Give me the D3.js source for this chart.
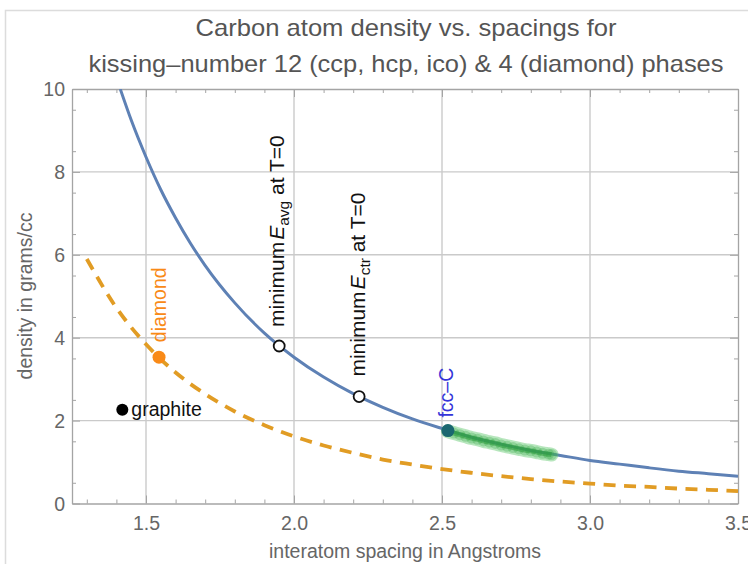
<!DOCTYPE html>
<html><head><meta charset="utf-8">
<script src="https://cdn.jsdelivr.net/npm/d3@7"></script>
<style>body{margin:0;background:#fff}svg{display:block}text{font-family:"Liberation Sans",Arial,sans-serif}</style>
</head><body>
<script>
// ---- data ----
const titleLines = ["Carbon atom density vs. spacings for", "kissing\u2013number 12 (ccp, hcp, ico) & 4 (diamond) phases"];
const xTicks = [1.5, 2.0, 2.5, 3.0, 3.5];
const yTicks = [0, 2, 4, 6, 8, 10];
const fccX = [1.413,1.45,1.5,1.55,1.6,1.65,1.7,1.8,1.9,2.0,2.1,2.2,2.3,2.4,2.5,2.6,2.7,2.8,2.9,3.0,3.1,3.2,3.3,3.4,3.5];
const fccY = [10.0,9.25,8.36,7.57,6.89,6.28,5.74,4.84,4.11,3.53,3.05,2.65,2.32,2.04,1.81,1.60,1.43,1.28,1.16,1.04,0.95,0.86,0.78,0.72,0.66];
const diaX = [1.3,1.4,1.5,1.6,1.7,1.8,1.9,2.0,2.1,2.2,2.3,2.4,2.5,2.6,2.7,2.8,2.9,3.0,3.1,3.2,3.3,3.4,3.5];
const diaY = [5.90,4.72,3.84,3.16,2.64,2.22,1.89,1.62,1.40,1.22,1.06,0.94,0.83,0.74,0.66,0.59,0.53,0.48,0.43,0.40,0.36,0.33,0.30];
const bandX = [2.52,2.54,2.56,2.58,2.60,2.62,2.64,2.66,2.68,2.70,2.72,2.74,2.76,2.78,2.80,2.82,2.84,2.86,2.87];
const bandY = [1.74,1.70,1.66,1.62,1.58,1.55,1.51,1.48,1.45,1.41,1.38,1.35,1.32,1.29,1.27,1.24,1.21,1.19,1.18];
const minAvg = {x:1.95, y:3.80};
const minCtr = {x:2.22, y:2.58};
const fccC = {x:2.52, y:1.76};
const diamondPt = {x:1.544, y:3.53};
const graphitePt = {x:1.42, y:2.26};

const W = 748, H = 564;
const svg = d3.select("body").append("svg").attr("width", W).attr("height", H);
const L = 72, R = 738, T = 89, B = 503.5;
const x = d3.scaleLinear().domain([1.25, 3.5]).range([L, R]);
const y = d3.scaleLinear().domain([0, 10]).range([B, T]);

// outer screenshot border
svg.append("path").attr("d", `M5.5,${H} V10.5 H${W}`).attr("fill","none").attr("stroke","#dcdcdc").attr("stroke-width",1.5);

// title
const titleW = [421, 635];
svg.selectAll("text.title").data(titleLines).join("text").attr("class","title")
  .attr("x", 406).attr("y", (d,i)=> 36 + i*36).attr("text-anchor","middle")
  .attr("font-size", 24).attr("fill","#555")
  .attr("textLength", (d,i)=>titleW[i]).attr("lengthAdjust","spacingAndGlyphs").text(d=>d);

// grid
const gridC = "#cacaca";
svg.append("g").selectAll("line").data([1.5,2.0,2.5,3.0]).join("line")
  .attr("x1",d=>x(d)).attr("x2",d=>x(d)).attr("y1",T).attr("y2",B).attr("stroke",gridC).attr("stroke-width",1.4);
svg.append("g").selectAll("line").data([2,4,6,8]).join("line")
  .attr("y1",d=>y(d)).attr("y2",d=>y(d)).attr("x1",L).attr("x2",R).attr("stroke",gridC).attr("stroke-width",1.4);

// frame + ticks via d3 axes
const axC = "#a4a4a4";
const xMinor = d3.range(13, 36).map(v=>v/10).filter(v=> Math.abs(v*2 - Math.round(v*2))>1e-6);
const yMinor = d3.range(1, 20, 2).map(v=>v/2);
function styleAxis(g){ g.select(".domain").attr("stroke",axC).attr("stroke-width",1.3); g.selectAll(".tick line").attr("stroke",axC); }
// bottom major
const gB = svg.append("g").attr("transform",`translate(0,${B})`)
  .call(d3.axisTop(x).tickValues(xTicks).tickSize(8).tickSizeOuter(0).tickFormat(d3.format(".1f")));
styleAxis(gB);
gB.selectAll(".tick text").attr("y", 26.5).attr("dy",0).attr("font-size",19.5).attr("fill","#666").attr("font-family","Liberation Sans");
svg.append("g").attr("transform",`translate(0,${B})`).call(d3.axisTop(x).tickValues(xMinor).tickSize(4).tickFormat("")).call(styleAxis).select(".domain").remove();
// top
svg.append("g").attr("transform",`translate(0,${T})`).call(d3.axisBottom(x).tickValues(xTicks).tickSize(8).tickSizeOuter(0).tickFormat("")).call(styleAxis);
svg.append("g").attr("transform",`translate(0,${T})`).call(d3.axisBottom(x).tickValues(xMinor).tickSize(4).tickFormat("")).call(styleAxis).select(".domain").remove();
// left
const gL = svg.append("g").attr("transform",`translate(${L},0)`)
  .call(d3.axisRight(y).tickValues(yTicks).tickSize(8).tickSizeOuter(0).tickFormat(d3.format("d")));
styleAxis(gL);
gL.selectAll(".tick text").attr("x", -7).attr("dy","0.35em").attr("text-anchor","end").attr("font-size",19.5).attr("fill","#666").attr("font-family","Liberation Sans");
svg.append("g").attr("transform",`translate(${L},0)`).call(d3.axisRight(y).tickValues(yMinor).tickSize(4).tickFormat("")).call(styleAxis).select(".domain").remove();
// right
svg.append("g").attr("transform",`translate(${R},0)`).call(d3.axisLeft(y).tickValues(yTicks).tickSize(8).tickSizeOuter(0).tickFormat("")).call(styleAxis);
svg.append("g").attr("transform",`translate(${R},0)`).call(d3.axisLeft(y).tickValues(yMinor).tickSize(4).tickFormat("")).call(styleAxis).select(".domain").remove();

// axis titles
svg.append("text").attr("x", 405).attr("y", 558).attr("text-anchor","middle").attr("font-size",19.5).attr("fill","#666").text("interatom spacing in Angstroms");
svg.append("text").attr("transform","translate(32,296) rotate(-90)").attr("text-anchor","middle").attr("font-size",19.5).attr("fill","#666").text("density in grams/cc");

// curves
svg.append("clipPath").attr("id","c").append("rect").attr("x",L).attr("y",T).attr("width",R-L).attr("height",B-T);
const line = d3.line().x(d=>x(d[0])).y(d=>y(d[1])).curve(d3.curveMonotoneX);
svg.append("path").attr("d", line(diaX.map((v,i)=>[v,diaY[i]]))).attr("fill","none")
  .attr("stroke","#e19c24").attr("stroke-width",3.8).attr("stroke-dasharray","12,8.5");
svg.append("path").attr("d", line(fccX.map((v,i)=>[v,fccY[i]]))).attr("fill","none")
  .attr("stroke","#5e81b5").attr("stroke-width",3).attr("clip-path","url(#c)");

// green band
const band = bandX.map((v,i)=>[v,bandY[i]]);
svg.append("path").attr("d", line(band)).attr("fill","none").attr("stroke","#4cc05a").attr("stroke-opacity",0.4).attr("stroke-width",14).attr("stroke-linecap","round");
svg.append("g").selectAll("circle").data(band).join("circle").attr("cx",d=>x(d[0])).attr("cy",d=>y(d[1])).attr("r",5.5)
  .attr("fill","#34a846").attr("fill-opacity",0.3);
svg.append("path").attr("d", line(band)).attr("fill","none").attr("stroke","#2a9a3a").attr("stroke-opacity",0.55).attr("stroke-width",5);

// points
svg.append("circle").attr("cx",x(minAvg.x)).attr("cy",y(minAvg.y)).attr("r",5.5).attr("fill","#fff").attr("stroke","#111").attr("stroke-width",1.8);
svg.append("circle").attr("cx",x(minCtr.x)).attr("cy",y(minCtr.y)).attr("r",5.5).attr("fill","#fff").attr("stroke","#111").attr("stroke-width",1.8);
svg.append("circle").attr("cx",x(fccC.x)).attr("cy",y(fccC.y)).attr("r",6.5).attr("fill","#1b6770");
svg.append("circle").attr("cx",x(diamondPt.x)).attr("cy",y(diamondPt.y)).attr("r",6.5).attr("fill","#f98a17");
svg.append("circle").attr("cx",x(graphitePt.x)).attr("cy",y(graphitePt.y)).attr("r",6).attr("fill","#000");

// labels
svg.append("text").attr("x", x(graphitePt.x)+9).attr("y", y(graphitePt.y)+6).attr("font-size",19.5).attr("fill","#111").text("graphite");
svg.append("text").attr("transform",`translate(${x(diamondPt.x)+7},${y(diamondPt.y)-15}) rotate(-90)`).attr("font-size",19.5).attr("fill","#f98a17").text("diamond");
svg.append("text").attr("transform",`translate(${x(fccC.x)+5},${y(fccC.y)-13}) rotate(-90)`).attr("font-size",19.5).attr("fill","#3434d8").text("fcc\u2013C");
function minLabel(pt, sub, dx, dy){
  const t = svg.append("text").attr("transform",`translate(${x(pt.x)+dx},${y(pt.y)-dy}) rotate(-90)`).attr("font-size",21).attr("fill","#111");
  t.append("tspan").text("minimum");
  t.append("tspan").attr("font-style","italic").attr("dx",2).text("E");
  t.append("tspan").attr("font-size",15.5).attr("dy",5).text(sub);
  t.append("tspan").attr("dy",-5).text(" at T=0");
}
minLabel(minAvg, "avg", 5, 19);
minLabel(minCtr, "ctr", 6, 20);
</script>
</body></html>
